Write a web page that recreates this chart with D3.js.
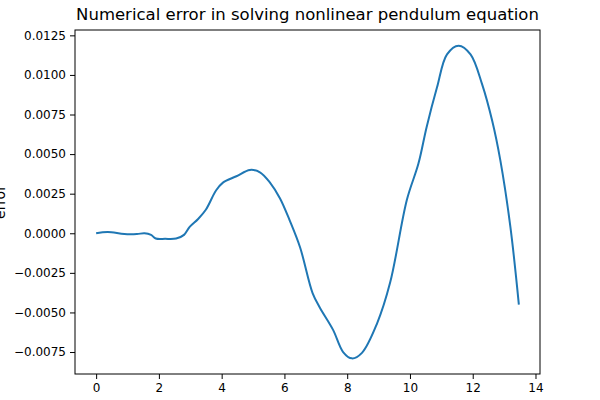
<!DOCTYPE html>
<html>
<head>
<meta charset="utf-8">
<script src="https://cdn.jsdelivr.net/npm/d3@7"></script>
<style>
    body { margin: 0; background: #fff; font-family: "DejaVu Sans", sans-serif; }
</style>
</head>
<body>
<div id="container"><svg></svg></div>
<script>
let width = 600
let height = 400

// values
let times = [0, 0.37, 0.9, 1.3, 1.54, 1.75, 1.9, 2.2, 2.55, 2.8, 2.98, 3.25, 3.5, 3.82, 4.04, 4.47, 4.9, 5.22, 5.54, 5.86, 6.17, 6.5, 6.9, 7.13, 7.55, 7.87, 8.15, 8.47, 8.95, 9.37, 9.9, 10.27, 10.53, 10.86, 11.18, 11.55, 11.93, 12.3, 12.62, 12.88, 13.2, 13.47]
let errors = [0, 0.00008, -0.00005, -0.00005, 0.0, -0.0001, -0.00033, -0.00035, -0.00033, -0.0001, 0.0004, 0.0009, 0.0015, 0.0027, 0.0032, 0.0036, 0.0040, 0.00385, 0.0032, 0.0022, 0.0008, -0.0009, -0.0038, -0.0047, -0.0061, -0.0075, -0.0079, -0.00755, -0.0057, -0.0031, 0.0021, 0.0044, 0.0067, 0.0092, 0.0113, 0.01185, 0.0113, 0.0094, 0.0071, 0.0046, 0.0004, -0.0045]
let x_ticks = [0, 2, 4, 6, 8, 10, 12, 14]
let y_ticks = [-0.0075, -0.005, -0.0025, 0, 0.0025, 0.005, 0.0075, 0.01, 0.0125]
let title = 'Numerical error in solving nonlinear pendulum equation'
let y_label = 'error'

let data = times.map((t, i) => ({ t: t, e: errors[i] }))

function pad_domain(ext) {
    let m = (ext[1] - ext[0]) * 0.05
    return [ext[0] - m, ext[1] + m]
}

function draw_main() {
    let padding = { 'left': 75, 'right': 60, 'top': 30, 'bottom': 26 }
    let svg = d3.select('#container').select('svg')
        .attr('width', width)
        .attr('height', height)

    let x = d3.scaleLinear()
        .domain(pad_domain(d3.extent(times)))
        .range([padding.left, width - padding.right])
    let y = d3.scaleLinear()
        .domain(pad_domain(d3.extent(errors)))
        .range([height - padding.bottom, padding.top])

    let axis_x = d3.axisBottom(x).tickValues(x_ticks).tickFormat(d3.format('d')).tickSize(5).tickPadding(4)
    let axis_y = d3.axisLeft(y).tickValues(y_ticks).tickFormat(d3.format('.4f')).tickSize(5).tickPadding(4)

    // x axis
    let gx = svg.append('g')
        .attr('transform', `translate(0, ${height - padding.bottom})`)
        .call(axis_x)
        .attr('font-family', 'DejaVu Sans')
        .attr('font-size', 12)
    // y axis
    let gy = svg.append('g')
        .attr('transform', `translate(${padding.left}, 0)`)
        .call(axis_y)
        .attr('font-family', 'DejaVu Sans')
        .attr('font-size', 12)
    gx.select('.domain').remove()
    gy.select('.domain').remove()
    svg.selectAll('.tick line').attr('stroke', '#000').attr('stroke-width', 1)
    svg.selectAll('.tick text').attr('fill', '#000')

    // the curve
    let line = d3.line()
        .x(d => x(d.t))
        .y(d => y(d.e))
        .curve(d3.curveCatmullRom)
    svg.append('path')
        .datum(data)
        .attr('d', line)
        .attr('fill', 'none')
        .attr('stroke', '#1f77b4')
        .attr('stroke-width', 2)

    // frame
    svg.append('rect')
        .attr('x', padding.left)
        .attr('y', padding.top)
        .attr('width', width - padding.left - padding.right)
        .attr('height', height - padding.top - padding.bottom)
        .attr('fill', 'none')
        .attr('stroke', '#000')
        .attr('stroke-width', 1)

    // title
    svg.append('text')
        .attr('x', (padding.left + width - padding.right) / 2)
        .attr('y', 20)
        .attr('text-anchor', 'middle')
        .attr('font-family', 'DejaVu Sans')
        .attr('font-size', 16.5)
        .text(title)

    // y label (clipped at the left edge, as in the reference)
    svg.append('g')
        .attr('transform', `translate(5, ${(padding.top + height - padding.bottom) / 2}) rotate(-90)`)
        .append('text')
        .attr('text-anchor', 'middle')
        .attr('font-family', 'DejaVu Sans')
        .attr('font-size', 14)
        .text(y_label)
}

draw_main()
</script>
</body>
</html>
